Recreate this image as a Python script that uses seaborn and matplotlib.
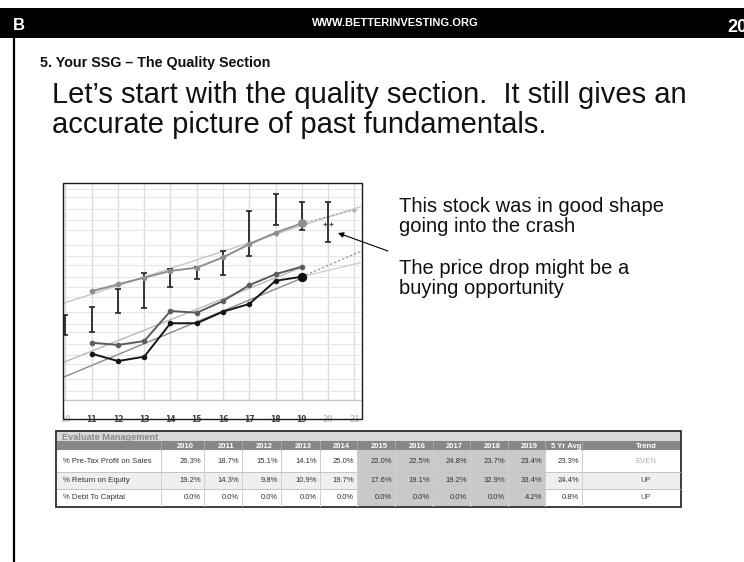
import numpy as np
import pandas as pd
import matplotlib
matplotlib.use("Agg")
import matplotlib.pyplot as plt
import seaborn as sns
from matplotlib.patches import Rectangle
from matplotlib.ticker import FixedLocator, NullLocator

# ---------------- data ----------------
hist_years = [11, 12, 13, 14, 15, 16, 17, 18, 19]
sales = [6.1, 7.7, 9.7, 12.2, 13.6, 19.4, 30.3, 45.0, 62.0]
pretax_profit = [1.05, 0.97, 1.11, 3.10, 2.92, 4.36, 7.5, 10.9, 14.1]
eps = [0.72, 0.56, 0.65, 2.04, 2.04, 3.03, 3.94, 8.7, 10.0]

price_years = [10, 11, 12, 13, 14, 15, 16, 17, 18, 19, 20]
price_high = [2.7, 3.6, 6.6, 11.5, 13.0, 14.1, 24.3, 95.0, 169.0, 130.0, 130.0]
price_low = [1.36, 1.53, 2.86, 3.47, 7.1, 9.15, 10.6, 20.3, 58.5, 49.3, 33.0]
current_year = 20
current_price = 60.0

sales_trend_years = [9.9, 21.3]
sales_trend = [4.0, 112.0]
trend_years = [9.9, 19]
pretax_trend = [0.53, 13.8]
eps_trend = [0.32, 9.5]
sales_proj_years = [19, 21]
sales_proj = [62.0, 98.0]
eps_proj_years = [19, 21.3]
eps_proj = [10.0, 24.3]
eps_proj_low = [10.0, 16.4]

tick_years = [10, 11, 12, 13, 14, 15, 16, 17, 18, 19, 20, 21]
tick_labels = ["10", "11", "12", "13", "14", "15", "16", "17", "18", "19", "20", "21"]
faded_ticks = ["10", "20", "21"]

table_years = ["2010", "2011", "2012", "2013", "2014", "2015", "2016", "2017", "2018", "2019"]
row_labels = ["% Pre-Tax Profit on Sales", "% Return on Equity", "% Debt To Capital"]
pretax_margin = [26.3, 18.7, 15.1, 14.1, 25.0, 22.0, 22.5, 24.8, 23.7, 23.4]
return_on_equity = [19.2, 14.3, 9.8, 10.9, 19.7, 17.6, 19.1, 19.2, 32.9, 33.4]
debt_to_capital = [0.0, 0.0, 0.0, 0.0, 0.0, 0.0, 0.0, 0.0, 0.0, 4.2]
five_yr_avg = [23.3, 24.4, 0.8]
trend_words = ["EVEN", "UP", "UP"]

# ---------------- figure ----------------
W, H = 744, 562
sns.set_theme(style="white")
plt.rcParams['font.family'] = ['Liberation Sans', 'DejaVu Sans']

fig = plt.figure(figsize=(W / 100, H / 100), dpi=100)
bg = fig.add_axes([0, 0, 1, 1])
bg.set_xlim(0, W)
bg.set_ylim(H, 0)
bg.axis('off')


def rect(x0, y0, x1, y1):
    return [x0 / W, 1 - y1 / H, (x1 - x0) / W, (y1 - y0) / H]


# header band
bg.add_patch(Rectangle((0, 8), W, 30, color='black', lw=0))
bg.text(13, 30, "B", color='white', fontsize=12, fontweight='bold', va='baseline', ha='left')
bg.text(395, 26, "WWW.BETTERINVESTING.ORG", color='white', fontsize=8, fontweight='bold',
        ha='center', va='baseline')
bg.text(727, 31.5, "20", color='white', fontsize=13, fontweight='bold', ha='left', va='baseline',
        clip_on=False)
bg.plot([14, 14], [38, H], color='black', lw=1.6, solid_capstyle='butt')

bg.text(40, 67, "5. Your SSG \u2013 The Quality Section", fontsize=10.3, fontweight='bold',
        color='#111111', ha='left', va='baseline')
bg.text(52, 103, "Let\u2019s start with the quality section.  It still gives an", fontsize=21,
        color='#111111', ha='left', va='baseline')
bg.text(52, 133, "accurate picture of past fundamentals.", fontsize=21,
        color='#111111', ha='left', va='baseline')

for txt, yb in [("This stock was in good shape", 211.5), ("going into the crash", 232.5),
                ("The price drop might be a", 273.5), ("buying opportunity", 294.5)]:
    bg.text(399, yb, txt, fontsize=14.5, color='#111111', ha='left', va='baseline')

# ---------------- SSG chart ----------------
ax = fig.add_axes(rect(63, 183, 361, 400))
ax.set_facecolor('white')
ax.set_yscale('log')
ax.set_xlim(9.907, 21.255)
ax.set_ylim(0.148, 246)
grid_levels = []
for dec in [0.1, 1, 10, 100]:
    for m in [1, 1.5, 2, 3, 5, 7]:
        grid_levels.append(m * dec)
ax.yaxis.set_major_locator(FixedLocator(grid_levels))
ax.yaxis.set_minor_locator(NullLocator())
ax.tick_params(axis='y', left=False, labelleft=False)
ax.grid(True, axis='y', color='#e6e6e6', lw=0.8)
ax.grid(True, axis='x', color='#dcdcdc', lw=1.0)
ax.set_axisbelow(True)
ax.set_xticks(tick_years)
ax.set_xticklabels(tick_labels, fontsize=5.5, family='DejaVu Sans', fontweight='bold')
ax.tick_params(axis='x', bottom=False, pad=4.5)
for lab in ax.get_xticklabels():
    lab.set_color('#c4c4c4' if lab.get_text() in faded_ticks else '#444444')
for s in ['top', 'left', 'right']:
    ax.spines[s].set_visible(False)
ax.spines['bottom'].set_color('#c8c8c8')
ax.spines['bottom'].set_linewidth(1.0)

# trend lines
sns.lineplot(x=sales_trend_years, y=sales_trend, ax=ax, color='#c6c6c6', lw=1.0)
sns.lineplot(x=trend_years, y=pretax_trend, ax=ax, color='#b8b8b8', lw=1.0)
sns.lineplot(x=trend_years, y=eps_trend, ax=ax, color='#8a8a8a', lw=1.0)
sns.lineplot(x=eps_proj_years, y=eps_proj_low, ax=ax, color='#cfcfcf', lw=1.0)
sns.lineplot(x=eps_proj_years, y=eps_proj, ax=ax, color='#999999', lw=0.9, linestyle=(0, (2, 1.5)))
sns.lineplot(x=sales_proj_years, y=sales_proj, ax=ax, color='#a8a8a8', lw=0.9, linestyle=(0, (2, 1.5)))
sns.scatterplot(x=sales_proj_years[-1:], y=sales_proj[-1:], ax=ax, color='#b8b8b8', s=10, linewidth=0)

# price bars
ax.vlines(price_years, price_low, price_high, color='#262626', lw=1.3, zorder=4)
ax.plot(price_years, price_high, ls='none', marker='_', ms=4, mew=1.2, color='#262626', zorder=4)
ax.plot(price_years, price_low, ls='none', marker='_', ms=4, mew=1.2, color='#262626', zorder=4)
ax.plot([current_year - 0.12, current_year + 0.12], [current_price, current_price], ls='none',
        marker='+', ms=3, mew=0.8, color='#555555', zorder=4)

# historical series
df = pd.DataFrame({'year': hist_years, 'sales': sales, 'pretax': pretax_profit, 'eps': eps})
sns.lineplot(data=df, x='year', y='sales', ax=ax, color='#8e8e8e', lw=1.4, marker='o',
             markersize=4, markeredgewidth=0, zorder=5)
sns.lineplot(data=df, x='year', y='pretax', ax=ax, color='#5c5c5c', lw=1.4, marker='o',
             markersize=4, markeredgewidth=0, zorder=5)
sns.lineplot(data=df, x='year', y='eps', ax=ax, color='#161616', lw=1.4, marker='o',
             markersize=4, markeredgewidth=0, zorder=6)
sns.scatterplot(x=hist_years[-1:], y=sales[-1:], ax=ax, color='#8e8e8e', s=40, linewidth=0, zorder=7)
sns.scatterplot(x=hist_years[-1:], y=eps[-1:], ax=ax, color='#111111', s=45, linewidth=0, zorder=7)
ax.set_xlabel('')
ax.set_ylabel('')

# ---------------- overlay: chart frame and arrow ----------------
top = fig.add_axes([0, 0, 1, 1], zorder=10)
top.set_xlim(0, W)
top.set_ylim(H, 0)
top.axis('off')
top.patch.set_alpha(0)
top.add_patch(Rectangle((62.7, 182.7), 299, 236.3, fill=False, ec='#1a1a1a', lw=1.0))
top.annotate('', xy=(338, 233), xytext=(388, 251),
             arrowprops=dict(arrowstyle='-|>', color='black', lw=0.8, mutation_scale=8,
                             shrinkA=0, shrinkB=0))

# ---------------- table ----------------
col_edges = [57, 161, 204, 242, 281, 320, 357, 395, 433, 470, 508, 545, 582, 680]
t_top, title_bot, head_bot = 431, 441, 450
row_edges = [450, 471.5, 488.5, 506]
t_bot = 507

bg.add_patch(Rectangle((col_edges[0], t_top), col_edges[-1] - col_edges[0], title_bot - t_top,
                       color='#d7d7d7', lw=0))
bg.text(62, 439.5, "Evaluate Management", fontsize=6.6, fontweight='bold', color='#8a8a8a',
        ha='left', va='baseline')
bg.add_patch(Rectangle((col_edges[0], title_bot), col_edges[-1] - col_edges[0], head_bot - title_bot,
                       color='#878787', lw=0))
headers = table_years + ["5 Yr Avg", "Trend"]
for i, h in enumerate(headers):
    cx = (col_edges[i + 1] + col_edges[i + 2]) / 2 + 3
    if h == "Trend":
        cx += 12
    bg.text(cx, 448, h, fontsize=5.5, fontweight='bold', color='white', ha='center', va='baseline')

rows = [pretax_margin, return_on_equity, debt_to_capital]
for r, vals in enumerate(rows):
    y0, y1 = row_edges[r], row_edges[r + 1]
    base_fill = '#efefef' if r == 1 else 'white'
    bg.add_patch(Rectangle((col_edges[0], y0), col_edges[-1] - col_edges[0], y1 - y0,
                           color=base_fill, lw=0))
    for c in range(5, 10):
        bg.add_patch(Rectangle((col_edges[c + 1], y0), col_edges[c + 2] - col_edges[c + 1], y1 - y0,
                               color='#c9c9c9', lw=0))
    yc = (y0 + y1) / 2 + 2.2
    bg.text(63, yc, row_labels[r], fontsize=5.6, color='#333333', ha='left', va='baseline')
    for c, v in enumerate(vals):
        bg.text(col_edges[c + 2] - 3, yc, f"{v:.1f}%", fontsize=5.5, color='#333333',
                ha='right', va='baseline')
    bg.text(col_edges[12] - 3, yc, f"{five_yr_avg[r]:.1f}%", fontsize=5.5, color='#333333',
            ha='right', va='baseline')
    bg.text((col_edges[12] + col_edges[13]) / 2 + 15, yc, trend_words[r], fontsize=5.5,
            color='#b0b0b0' if trend_words[r] == "EVEN" else '#555555', ha='center', va='baseline')
    if r > 0:
        bg.plot([col_edges[0], col_edges[-1]], [y0, y0], color='#c4c4c4', lw=0.7)

for xe in col_edges[1:-1]:
    bg.plot([xe, xe], [head_bot, row_edges[-1]], color='#d0d0d0', lw=0.7)
    bg.plot([xe, xe], [title_bot, head_bot], color='#a8a8a8', lw=0.7)

bg.add_patch(Rectangle((col_edges[0] - 1, t_top), col_edges[-1] - col_edges[0] + 2, t_bot - t_top,
                       fill=False, ec='#2e2e2e', lw=1.3))

fig.savefig("out.png", dpi=100)
